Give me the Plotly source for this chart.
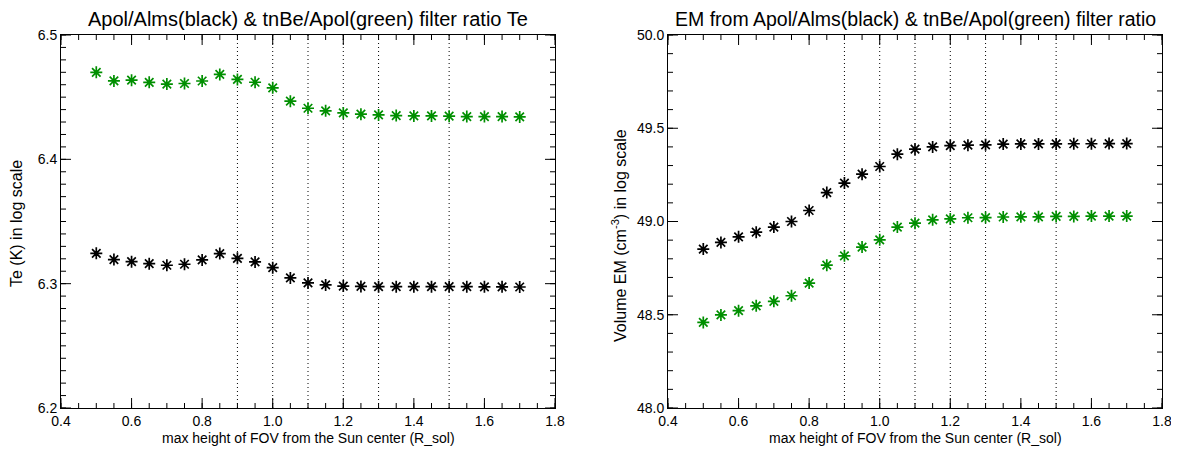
import numpy as np
import plotly.graph_objects as go

# ---- data ----
height = [0.50, 0.55, 0.60, 0.65, 0.70, 0.75, 0.80, 0.85, 0.90, 0.95, 1.00, 1.05, 1.10,
          1.15, 1.20, 1.25, 1.30, 1.35, 1.40, 1.45, 1.50, 1.55, 1.60, 1.65, 1.70]

te_black = [6.3244, 6.3194, 6.3177, 6.3161, 6.3148, 6.3156, 6.3191, 6.3242, 6.3204, 6.3175,
            6.3129, 6.3046, 6.3006, 6.2990, 6.2981, 6.2978, 6.2976, 6.2976, 6.2976, 6.2976,
            6.2976, 6.2976, 6.2975, 6.2975, 6.2973]
te_green = [6.4700, 6.4631, 6.4637, 6.4619, 6.4605, 6.4610, 6.4630, 6.4683, 6.4643, 6.4620,
            6.4575, 6.4468, 6.4411, 6.4390, 6.4373, 6.4363, 6.4357, 6.4352, 6.4349, 6.4349,
            6.4347, 6.4344, 6.4344, 6.4344, 6.4341]

em_black = [48.852, 48.888, 48.918, 48.943, 48.970, 49.000, 49.059, 49.155, 49.206, 49.254,
            49.295, 49.361, 49.388, 49.400, 49.407, 49.409, 49.411, 49.415, 49.416, 49.416,
            49.416, 49.417, 49.417, 49.418, 49.418]
em_green = [48.459, 48.499, 48.522, 48.548, 48.572, 48.602, 48.670, 48.766, 48.816, 48.863,
            48.902, 48.970, 48.991, 49.009, 49.014, 49.020, 49.021, 49.024, 49.025, 49.025,
            49.027, 49.027, 49.029, 49.029, 49.029]

vlines = [0.9, 1.0, 1.1, 1.2, 1.3, 1.5]

# axis ticks
x_major = [0.4, 0.6, 0.8, 1.0, 1.2, 1.4, 1.6, 1.8]
x_minor = [round(v, 2) for v in np.arange(0.4, 1.8001, 0.05)]
te_major = [6.2, 6.3, 6.4, 6.5]
te_minor = [round(v, 2) for v in np.arange(6.2, 6.5001, 0.01)]
em_major = [48.0, 48.5, 49.0, 49.5, 50.0]
em_minor = [round(v, 1) for v in np.arange(48.0, 50.0001, 0.1)]

title_left = "Apol/Alms(black) & tnBe/Apol(green) filter ratio Te"
title_right = "EM from Apol/Alms(black) & tnBe/Apol(green) filter ratio"
xlabel = "max height of FOV from the Sun center (R_sol)"
ylabel_left = "Te (K) in log scale"
ylabel_right = "Volume EM (cm<sup>-3</sup>) in log scale"

GREEN = "#008f00"
FONT = "Liberation Sans, Arial, sans-serif"

# page has an 8px body margin, so the figure is drawn 8px in from the top-left
OFF = 8
W, H = 1179 - OFF, 451 - OFF
def px_x(p):
    return (p - OFF) / W
def px_y(p):
    return 1 - (p - OFF) / H

PLOT_W, PLOT_H = 494, 373
left_dom = [px_x(61), px_x(61 + PLOT_W)]
right_dom = [px_x(668), px_x(668 + PLOT_W)]
y_dom = [px_y(35 + PLOT_H), px_y(35)]

XR = [0.4, 1.8]
YR_TE = [6.2, 6.5]
YR_EM = [48.0, 50.0]
MAJ_LEN, MIN_LEN = 10, 5

fig = go.Figure()

def marker(color):
    return dict(symbol="asterisk-open", size=10, color=color, line=dict(color=color, width=1.7))


def tick_trace(xa, ya, yr, xmaj, xmin, ymaj, ymin):
    """IDL-style inside ticks on all four sides, built from the tick value lists."""
    xs, ys = [], []
    dy_maj = MAJ_LEN / PLOT_H * (yr[1] - yr[0])
    dy_min = MIN_LEN / PLOT_H * (yr[1] - yr[0])
    dx_maj = MAJ_LEN / PLOT_W * (XR[1] - XR[0])
    dx_min = MIN_LEN / PLOT_W * (XR[1] - XR[0])
    for vals, d in ((xmin, dy_min), (xmaj, dy_maj)):
        for v in vals:
            xs += [v, v, None, v, v, None]
            ys += [yr[0], yr[0] + d, None, yr[1] - d, yr[1], None]
    for vals, d in ((ymin, dx_min), (ymaj, dx_maj)):
        for v in vals:
            xs += [XR[0], XR[0] + d, None, XR[1] - d, XR[1], None]
            ys += [v, v, None, v, v, None]
    return go.Scatter(x=xs, y=ys, mode="lines", line=dict(color="black", width=1),
                      xaxis=xa, yaxis=ya, showlegend=False, hoverinfo="skip", connectgaps=False)


fig.add_trace(tick_trace("x", "y", YR_TE, x_major, x_minor, te_major, te_minor))
fig.add_trace(tick_trace("x2", "y2", YR_EM, x_major, x_minor, em_major, em_minor))

fig.add_trace(go.Scatter(x=height, y=te_black, mode="markers", marker=marker("black"),
                         xaxis="x", yaxis="y", showlegend=False, cliponaxis=False))
fig.add_trace(go.Scatter(x=height, y=te_green, mode="markers", marker=marker(GREEN),
                         xaxis="x", yaxis="y", showlegend=False, cliponaxis=False))
fig.add_trace(go.Scatter(x=height, y=em_black, mode="markers", marker=marker("black"),
                         xaxis="x2", yaxis="y2", showlegend=False, cliponaxis=False))
fig.add_trace(go.Scatter(x=height, y=em_green, mode="markers", marker=marker(GREEN),
                         xaxis="x2", yaxis="y2", showlegend=False, cliponaxis=False))

shapes = []
for xa, ya in (("x", "y"), ("x2", "y2")):
    for v in vlines:
        shapes.append(dict(type="line", xref=xa, yref=ya + " domain", x0=v, x1=v, y0=0, y1=1,
                           line=dict(color="black", width=1, dash="1px,3px"), layer="below"))

axis = dict(tickformat=".1f", ticks="", showline=True, linecolor="black", linewidth=1,
            mirror=True, showgrid=False, zeroline=False, automargin=False,
            tickfont=dict(family=FONT, size=14, color="black"))

fig.update_layout(
    template="none",
    width=W, height=H,
    margin=dict(l=0, r=0, t=0, b=0, autoexpand=False),
    paper_bgcolor="white", plot_bgcolor="white",
    font=dict(family=FONT, color="black"),
    xaxis=dict(domain=left_dom, anchor="y", range=XR, tickmode="array", tickvals=x_major, **axis),
    yaxis=dict(domain=y_dom, anchor="x", range=YR_TE, tickmode="array", tickvals=te_major, **axis),
    xaxis2=dict(domain=right_dom, anchor="y2", range=XR, tickmode="array", tickvals=x_major, **axis),
    yaxis2=dict(domain=y_dom, anchor="x2", range=YR_EM, tickmode="array", tickvals=em_major, **axis),
    shapes=shapes,
)

annotations = [
    dict(text=title_left, x=(left_dom[0] + left_dom[1]) / 2, y=px_y(19), xref="paper", yref="paper",
         showarrow=False, font=dict(size=20, family=FONT), xanchor="center", yanchor="middle"),
    dict(text=title_right, x=(right_dom[0] + right_dom[1]) / 2, y=px_y(19), xref="paper", yref="paper",
         showarrow=False, font=dict(size=19.5, family=FONT), xanchor="center", yanchor="middle"),
    dict(text=xlabel, x=(left_dom[0] + left_dom[1]) / 2, y=px_y(438), xref="paper", yref="paper",
         showarrow=False, font=dict(size=14, family=FONT), xanchor="center", yanchor="middle"),
    dict(text=xlabel, x=(right_dom[0] + right_dom[1]) / 2, y=px_y(438), xref="paper", yref="paper",
         showarrow=False, font=dict(size=14, family=FONT), xanchor="center", yanchor="middle"),
    dict(text=ylabel_left, x=px_x(16), y=px_y(224), xref="paper", yref="paper",
         showarrow=False, textangle=-90, font=dict(size=16, family=FONT), xanchor="center", yanchor="middle"),
    dict(text=ylabel_right, x=px_x(619), y=px_y(236), xref="paper", yref="paper",
         showarrow=False, textangle=-90, font=dict(size=16, family=FONT), xanchor="center", yanchor="middle"),
]
fig.update_layout(annotations=annotations)

fig.write_html("out.html")
